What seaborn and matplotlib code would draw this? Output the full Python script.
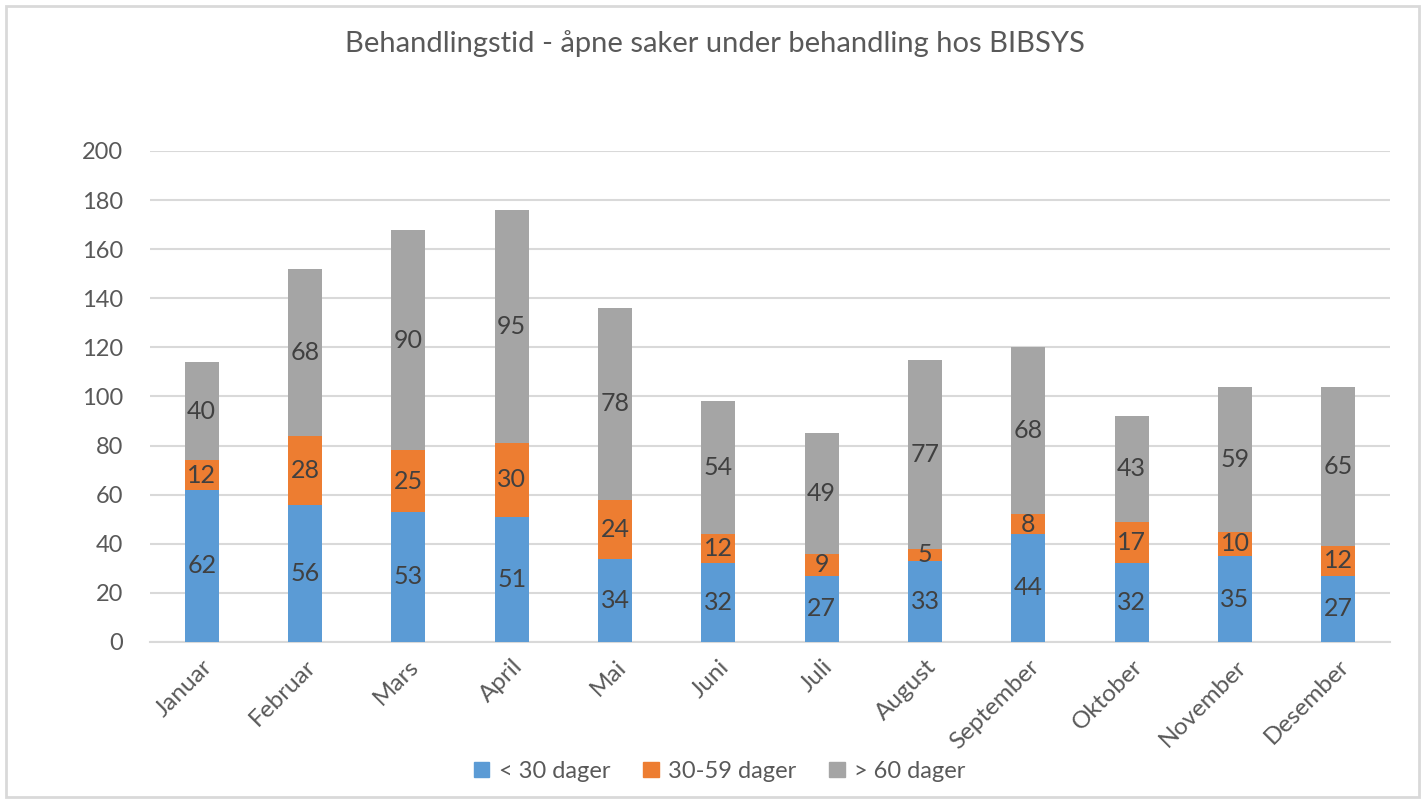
import numpy as np
import pandas as pd
import matplotlib
matplotlib.use("Agg")
import matplotlib.pyplot as plt
import seaborn as sns
from matplotlib.patches import Rectangle

months = ["Januar", "Februar", "Mars", "April", "Mai", "Juni", "Juli",
          "August", "September", "Oktober", "November", "Desember"]
under_30 = [62, 56, 53, 51, 34, 32, 27, 33, 44, 32, 35, 27]
d30_59 = [12, 28, 25, 30, 24, 12, 9, 5, 8, 17, 10, 12]
over_60 = [40, 68, 90, 95, 78, 54, 49, 77, 68, 43, 59, 65]
series_names = ["< 30 dager", "30-59 dager", "> 60 dager"]
colors = ["#5B9BD5", "#ED7D31", "#A5A5A5"]
title = "Behandlingstid - åpne saker under behandling hos BIBSYS"

sns.set_theme(style="white")
plt.rcParams["font.family"] = ["Lato", "DejaVu Sans"]
txt = "#595959"

df = pd.DataFrame({"month": months, "a": under_30, "b": d30_59, "c": over_60})
df["ab"] = df["a"] + df["b"]
df["abc"] = df["ab"] + df["c"]

fig = plt.figure(figsize=(14.25, 8), dpi=100)
fig.patches.append(Rectangle((0.004, 0.004), 0.992, 0.988, transform=fig.transFigure,
                             fill=False, edgecolor="#D9D9D9", linewidth=2))
ax = fig.add_axes([0.1053, 0.1975, 0.8701, 0.6138])

for col, c in [("abc", colors[2]), ("ab", colors[1]), ("a", colors[0])]:
    sns.barplot(data=df, x="month", y=col, color=c, width=0.33, ax=ax,
                saturation=1, order=months, zorder=3, linewidth=0)

ax.set_xlim(-0.5, 11.5)
ax.set_ylim(0, 200)
ax.set_yticks(np.arange(0, 201, 20))
ax.grid(axis="y", color="#D9D9D9", linewidth=1.5, zorder=0)
ax.grid(axis="x", visible=False)
for s in ["top", "right", "left"]:
    ax.spines[s].set_visible(False)
ax.spines["bottom"].set_color("#D9D9D9")
ax.spines["bottom"].set_linewidth(1.5)
ax.set_axisbelow(True)
ax.tick_params(axis="both", length=0, colors=txt, labelsize=17)
ax.tick_params(axis="y", pad=19.5)
ax.tick_params(axis="x", labelsize=17.5, pad=10)
ax.set_xlabel("")
ax.set_ylabel("")
plt.setp(ax.get_xticklabels(), rotation=45, ha="right", rotation_mode="anchor")

lbl = "#404040"
fs = 18
for i in range(len(months)):
    a, b, c = under_30[i], d30_59[i], over_60[i]
    ax.text(i, a / 2, str(a), ha="center", va="center", fontsize=fs, color=lbl, zorder=5)
    ax.text(i, a + b / 2, str(b), ha="center", va="center", fontsize=fs, color=lbl, zorder=5)
    ax.text(i, a + b + c / 2, str(c), ha="center", va="center", fontsize=fs, color=lbl, zorder=5)

fig.text(0.502, 0.946, title, ha="center", va="center", fontsize=21, color=txt)

handles = [Rectangle((0, 0), 1, 1, color=c) for c in colors]
fig.legend(handles, series_names, loc="center", bbox_to_anchor=(0.505, 0.036), ncol=3,
           frameon=False, fontsize=17, labelcolor=txt, handlelength=0.65, handleheight=0.65,
           handletextpad=0.4, columnspacing=1.4)

fig.savefig("out.png", dpi=100)
